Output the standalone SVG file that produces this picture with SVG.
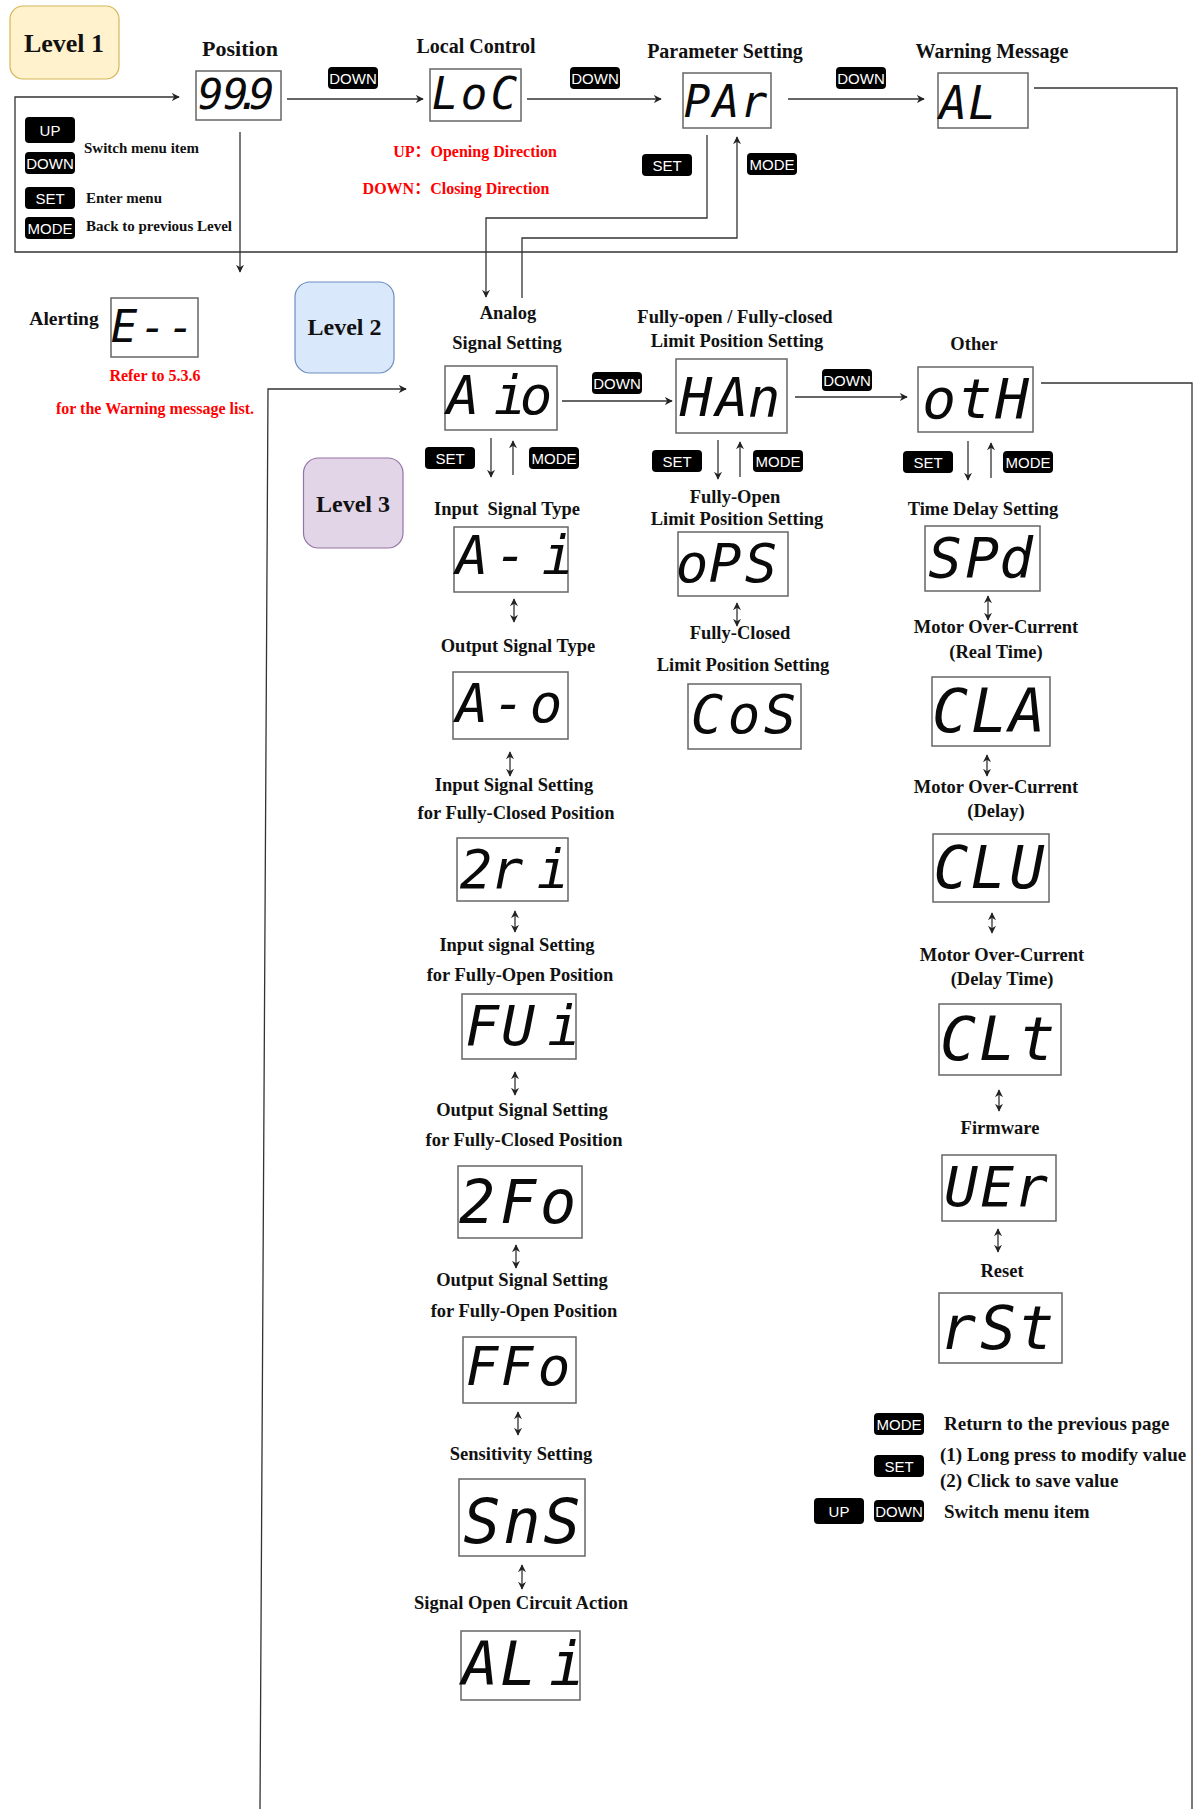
<svg xmlns="http://www.w3.org/2000/svg" width="1195" height="1809" viewBox="0 0 1195 1809">
<style>
.bg{fill:#ffffff}
.lbl{font-family:"Liberation Serif","Times New Roman",serif;font-weight:bold;font-size:18.5px;fill:#111;text-anchor:middle}
.big{font-size:20px}
.lvl{font-family:"Liberation Serif","Times New Roman",serif;font-weight:bold;font-size:24px;fill:#111;text-anchor:middle}
.red{font-family:"Liberation Serif","Noto Sans CJK SC",serif;font-weight:bold;font-size:16px;fill:#ff0000;text-anchor:middle}
.leg{font-family:"Liberation Serif","Times New Roman",serif;font-weight:bold;font-size:15px;fill:#111}
.leg2{font-family:"Liberation Serif","Times New Roman",serif;font-weight:bold;font-size:19px;fill:#111}
.lcdbox{fill:#ffffff;stroke:#666;stroke-width:1.5}
.lcd{font-family:"DejaVu Sans Mono","Liberation Mono",monospace;font-style:italic;fill:#0a0a0a;text-anchor:middle}
.badge{fill:#000}
.btxt{font-family:"Liberation Sans",Arial,sans-serif;font-size:15px;fill:#fff;text-anchor:middle}
.conn{fill:none;stroke:#333;stroke-width:1.3}
.arr{marker-end:url(#ah)}
.dbl{marker-start:url(#ah);marker-end:url(#ah)}
</style>
<defs>
<marker id="ah" viewBox="0 0 10 10" refX="9" refY="5" markerWidth="8" markerHeight="8" markerUnits="userSpaceOnUse" orient="auto-start-reverse">
<path d="M0,0 L10,5 L0,10 L3,5 z" fill="#222"/>
</marker>
<g id="badgeDOWN"><rect class="badge" x="0" y="0" width="50" height="22" rx="4"/><text class="btxt" x="25" y="16.5">DOWN</text></g>
<g id="badgeSET"><rect class="badge" x="0" y="0" width="50" height="22" rx="4"/><text class="btxt" x="25" y="16.5">SET</text></g>
<g id="badgeMODE"><rect class="badge" x="0" y="0" width="50" height="22" rx="4"/><text class="btxt" x="25" y="16.5">MODE</text></g>
<g id="badgeUP"><rect class="badge" x="0" y="0" width="50" height="26" rx="4"/><text class="btxt" x="25" y="18.5">UP</text></g>
</defs>
<rect class="bg" x="0" y="0" width="1195" height="1809"/>

<!-- Level tags -->
<g id="level1"><rect x="10" y="6" width="109" height="73" rx="13" fill="#fff2cc" stroke="#d6b656" stroke-width="1.2"/><text class="lvl" x="64" y="52" style="font-size:26px">Level 1</text></g>
<g id="level2"><rect x="295" y="282" width="99" height="91" rx="15" fill="#dae8fc" stroke="#6c8ebf" stroke-width="1.2"/><text class="lvl" x="344.5" y="335">Level 2</text></g>
<g id="level3"><rect x="303.5" y="458" width="99.5" height="90" rx="15" fill="#e1d5e7" stroke="#9673a6" stroke-width="1.2"/><text class="lvl" x="353" y="512">Level 3</text></g>

<!-- Top-left legend -->
<g id="legend-top">
<use href="#badgeUP" x="25" y="117"/>
<use href="#badgeDOWN" x="25" y="152"/>
<text class="leg" x="84" y="153">Switch menu item</text>
<use href="#badgeSET" x="25" y="187"/>
<text class="leg" x="86" y="203">Enter menu</text>
<use href="#badgeMODE" x="25" y="217"/>
<text class="leg" x="86" y="231">Back to previous Level</text>
</g>

<!-- Connectors -->
<g id="connectors">
<path class="conn arr" d="M1034,88 H1177 V252 H15 V97 H179"/>
<path class="conn arr" d="M240,132 V272"/>
<path class="conn arr" d="M287,99 H423"/>
<path class="conn arr" d="M527,99 H661"/>
<path class="conn arr" d="M788,99 H924"/>
<path class="conn arr" d="M707,135 V218 H486 V297"/>
<path class="conn arr" d="M522,298 V238 H737 V137"/>
<path class="conn arr" d="M260,1809 L268,389 H406"/>
<path class="conn" d="M1041,383 H1192 V1809"/>
<path class="conn arr" d="M562,401 H672"/>
<path class="conn arr" d="M795,397 H907"/>
<path class="conn arr" d="M491,438 V477"/>
<path class="conn arr" d="M513,475 V441"/>
<path class="conn arr" d="M718,440 V479"/>
<path class="conn arr" d="M740,477 V442"/>
<path class="conn arr" d="M968,441 V480"/>
<path class="conn arr" d="M991,478 V443"/>
<path class="conn dbl" d="M514,599 V622"/>
<path class="conn dbl" d="M510,752 V776"/>
<path class="conn dbl" d="M515,911 V932"/>
<path class="conn dbl" d="M515,1072 V1095"/>
<path class="conn dbl" d="M516,1245 V1268"/>
<path class="conn dbl" d="M518,1412 V1435"/>
<path class="conn dbl" d="M522,1565 V1589"/>
<path class="conn dbl" d="M737,603 V626"/>
<path class="conn dbl" d="M988,596 V620"/>
<path class="conn dbl" d="M987,755 V776"/>
<path class="conn dbl" d="M992,913 V933"/>
<path class="conn dbl" d="M999,1090 V1111"/>
<path class="conn dbl" d="M998,1229 V1252"/>
</g>

<!-- Connector badges -->
<g id="edge-badges">
<use href="#badgeDOWN" x="328" y="67"/>
<use href="#badgeDOWN" x="570" y="67"/>
<use href="#badgeDOWN" x="836" y="67"/>
<use href="#badgeSET" x="642" y="154"/>
<use href="#badgeMODE" x="747" y="153"/>
<use href="#badgeDOWN" x="592" y="372"/>
<use href="#badgeDOWN" x="822" y="369"/>
<use href="#badgeSET" x="425" y="447"/>
<use href="#badgeMODE" x="529" y="447"/>
<use href="#badgeSET" x="652" y="450"/>
<use href="#badgeMODE" x="753" y="450"/>
<use href="#badgeSET" x="903" y="451"/>
<use href="#badgeMODE" x="1003" y="451"/>
</g>

<!-- Level 1 nodes -->
<g id="node-position">
<text class="lbl" x="240" y="56" style="font-size:22px">Position</text>
<rect class="lcdbox" x="196" y="71" width="85" height="49"/>
<text class="lcd" x="211 236 249 262" y="109" font-size="42">99.9</text>
</g>
<g id="node-loc">
<text class="lbl big" x="476" y="53">Local Control</text>
<rect class="lcdbox" x="430" y="69" width="91" height="52"/>
<text class="lcd" x="445 474 504" y="109" font-size="44">LoC</text>
<text class="red" x="475" y="157">UP：Opening Direction</text>
<text class="red" x="456" y="194">DOWN：Closing Direction</text>
</g>
<g id="node-par">
<text class="lbl big" x="725" y="58">Parameter Setting</text>
<rect class="lcdbox" x="683" y="73" width="88" height="55"/>
<text class="lcd" x="697 726 754" y="117" font-size="44">PAr</text>
</g>
<g id="node-al">
<text class="lbl big" x="992" y="58">Warning Message</text>
<rect class="lcdbox" x="938" y="73" width="90" height="55"/>
<text class="lcd" x="953 982" y="119" font-size="46">AL</text>
</g>
<g id="node-alerting">
<text class="lbl" x="64" y="325" style="font-size:19.5px">Alerting</text>
<rect class="lcdbox" x="111" y="298" width="87" height="59"/>
<text class="lcd" x="124 153 181" y="342" font-size="44">E--</text>
<text class="red" x="155" y="381">Refer to 5.3.6</text>
<text class="red" x="155" y="414">for the Warning message list.</text>
</g>

<!-- Level 2 nodes -->
<g id="node-aio">
<text class="lbl" x="508" y="319">Analog</text>
<text class="lbl" x="507" y="349">Signal Setting</text>
<rect class="lcdbox" x="445" y="366" width="112" height="64"/>
<text class="lcd" x="463 510 536" y="414" font-size="54">Aio</text>
</g>
<g id="node-han">
<text class="lbl" x="735" y="323">Fully-open / Fully-closed</text>
<text class="lbl" x="737" y="347">Limit Position Setting</text>
<rect class="lcdbox" x="676" y="359" width="111" height="74"/>
<text class="lcd" x="696 732 764" y="416" font-size="54">HAn</text>
</g>
<g id="node-oth">
<text class="lbl" x="974" y="350">Other</text>
<rect class="lcdbox" x="918" y="367" width="115" height="65"/>
<text class="lcd" x="939 975 1012" y="418" font-size="56">otH</text>
</g>

<!-- Level 3: analog column -->
<g id="node-ai">
<text class="lbl" x="507" y="515" xml:space="preserve">Input  Signal Type</text>
<rect class="lcdbox" x="454" y="527" width="114" height="65"/>
<text class="lcd" x="472 511 558" y="574" font-size="54">A-i</text>
</g>
<g id="node-ao">
<text class="lbl" x="518" y="652">Output Signal Type</text>
<rect class="lcdbox" x="453" y="672" width="115" height="67"/>
<text class="lcd" x="472 509 546" y="722" font-size="54">A-o</text>
</g>
<g id="node-2ri">
<text class="lbl" x="514" y="791">Input Signal Setting</text>
<text class="lbl" x="516" y="819">for Fully-Closed Position</text>
<rect class="lcdbox" x="457" y="838" width="111" height="63"/>
<text class="lcd" x="476 507 553" y="888" font-size="54">2ri</text>
</g>
<g id="node-fui">
<text class="lbl" x="517" y="951">Input signal Setting</text>
<text class="lbl" x="520" y="981">for Fully-Open Position</text>
<rect class="lcdbox" x="462" y="994" width="114" height="65"/>
<text class="lcd" x="482 518 564" y="1045" font-size="56">FUi</text>
</g>
<g id="node-2fo">
<text class="lbl" x="522" y="1116">Output Signal Setting</text>
<text class="lbl" x="524" y="1146">for Fully-Closed Position</text>
<rect class="lcdbox" x="458" y="1166" width="124" height="72"/>
<text class="lcd" x="477 518 558" y="1223" font-size="60">2Fo</text>
</g>
<g id="node-ffo">
<text class="lbl" x="522" y="1286">Output Signal Setting</text>
<text class="lbl" x="524" y="1317">for Fully-Open Position</text>
<rect class="lcdbox" x="463" y="1337" width="113" height="66"/>
<text class="lcd" x="482 517 554" y="1385" font-size="54">FFo</text>
</g>
<g id="node-sns">
<text class="lbl" x="521" y="1460">Sensitivity Setting</text>
<rect class="lcdbox" x="459" y="1479" width="126" height="77"/>
<text class="lcd" x="482 522 562" y="1543" font-size="62">SnS</text>
</g>
<g id="node-ali">
<text class="lbl" x="521" y="1609">Signal Open Circuit Action</text>
<rect class="lcdbox" x="461" y="1631" width="119" height="69"/>
<text class="lcd" x="480 518 567" y="1685" font-size="60">ALi</text>
</g>

<!-- Level 3: limit column -->
<g id="node-ops">
<text class="lbl" x="735" y="503">Fully-Open</text>
<text class="lbl" x="737" y="525">Limit Position Setting</text>
<rect class="lcdbox" x="678" y="532" width="110" height="64"/>
<text class="lcd" x="692 725 761" y="582" font-size="54">oPS</text>
</g>
<g id="node-cos">
<text class="lbl" x="740" y="639">Fully-Closed</text>
<text class="lbl" x="743" y="671">Limit Position Setting</text>
<rect class="lcdbox" x="688" y="684" width="113" height="65"/>
<text class="lcd" x="707 744 780" y="733" font-size="54">CoS</text>
</g>

<!-- Level 3: other column -->
<g id="node-spd">
<text class="lbl" x="983" y="515">Time Delay Setting</text>
<rect class="lcdbox" x="925" y="526" width="115" height="65"/>
<text class="lcd" x="945 982 1016" y="577" font-size="56">SPd</text>
</g>
<g id="node-cla">
<text class="lbl" x="996" y="633">Motor Over-Current</text>
<text class="lbl" x="996" y="658">(Real Time)</text>
<rect class="lcdbox" x="932" y="677" width="118" height="69"/>
<text class="lcd" x="950 989 1027" y="732" font-size="60">CLA</text>
</g>
<g id="node-clu">
<text class="lbl" x="996" y="793">Motor Over-Current</text>
<text class="lbl" x="996" y="817">(Delay)</text>
<rect class="lcdbox" x="933" y="834" width="116" height="68"/>
<text class="lcd" x="951 988 1027" y="888" font-size="58">CLU</text>
</g>
<g id="node-clt">
<text class="lbl" x="1002" y="961">Motor Over-Current</text>
<text class="lbl" x="1002" y="985">(Delay Time)</text>
<rect class="lcdbox" x="939" y="1004" width="122" height="71"/>
<text class="lcd" x="958 997 1037" y="1060" font-size="60">CLt</text>
</g>
<g id="node-uer">
<text class="lbl" x="1000" y="1134">Firmware</text>
<rect class="lcdbox" x="942" y="1155" width="114" height="66"/>
<text class="lcd" x="961 997 1031" y="1206" font-size="56">UEr</text>
</g>
<g id="node-rst">
<text class="lbl" x="1002" y="1277">Reset</text>
<rect class="lcdbox" x="939" y="1293" width="123" height="70"/>
<text class="lcd" x="958 998 1036" y="1349" font-size="60">rSt</text>
</g>

<!-- Bottom-right legend -->
<g id="legend-bottom">
<use href="#badgeMODE" x="874" y="1413"/>
<text class="leg2" x="944" y="1430">Return to the previous page</text>
<use href="#badgeSET" x="874" y="1455"/>
<text class="leg2" x="940" y="1461">(1) Long press to modify value</text>
<text class="leg2" x="940" y="1487">(2) Click to save value</text>
<use href="#badgeUP" x="814" y="1498"/>
<use href="#badgeDOWN" x="874" y="1500"/>
<text class="leg2" x="944" y="1518">Switch menu item</text>
</g>
</svg>
